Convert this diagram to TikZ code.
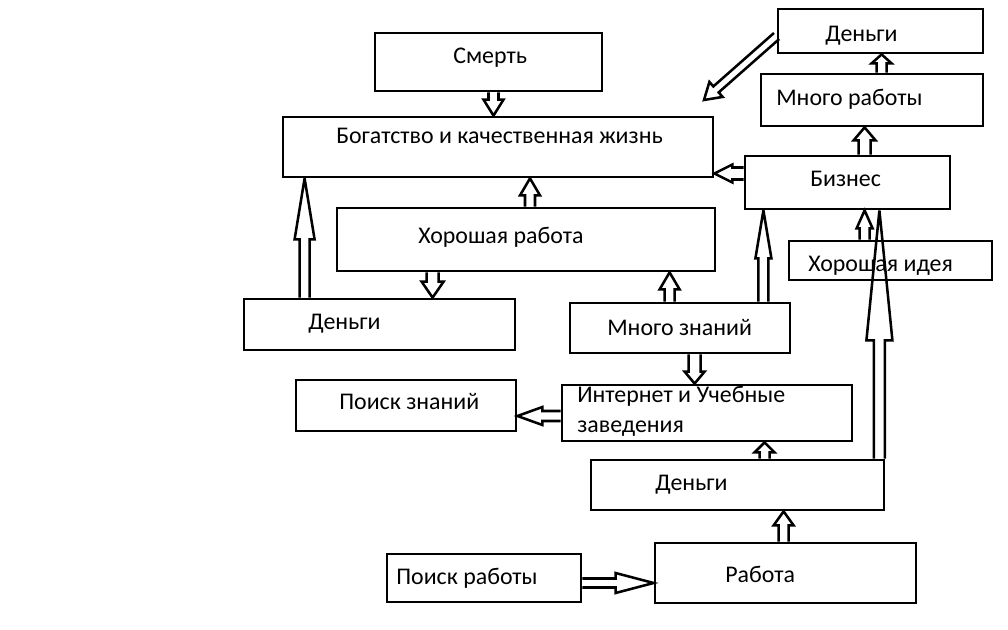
\documentclass[tikz,border=0pt]{standalone}
\usepackage{fontspec}
\setmainfont{Carlito}
\usetikzlibrary{calc, fit, positioning}

% one pixel of the sketch
\def\px{0.025cm}

\tikzset{
    box/.style={draw, line width=2pt, inner sep=0pt},
    txt/.style={inner sep=0pt, font=\fontsize{17}{21.3}\selectfont},
    arrowline/.style={line width=1.8pt, line join=miter, miter limit=4}
}

% hollow block arrow: from, to, shaft half width, head half width, head length
\newcommand{\hollowarrow}[5]{%
    \coordinate (ha-h) at ($(#2)!#5*\px!(#1)$);
    \draw[arrowline]
        ($(#1)!#3*\px!90:(#2)$) -- ($(ha-h)!#3*\px!-90:(#1)$)
        -- ($(ha-h)!#4*\px!-90:(#1)$) -- (#2)
        -- ($(ha-h)!#4*\px!90:(#1)$) -- ($(ha-h)!#3*\px!90:(#1)$)
        -- ($(#1)!#3*\px!-90:(#2)$);
}

\begin{document}
\begin{tikzpicture}[x=0.025cm, y=-0.025cm]
\useasboundingbox (0,0) rectangle (1008,630);

% Boxes
\node[box, fit={(375,33) (602,91)}] (death) {};
\node[box, fit={(283,117) (713,177)}] (wealth) {};
\node[box, fit={(337,208) (715,271)}] (good-job) {};
\node[box, fit={(244,299) (515,350)}] (money-left) {};
\node[box, fit={(570,303) (790,353)}] (much-knowledge) {};
\node[box, fit={(296,380) (516,431)}] (search-knowledge) {};
\node[box, fit={(562,385) (852,441)}] (internet) {};
\node[box, fit={(591,460) (884,510)}] (money-mid) {};
\node[box, fit={(387,554) (581,602)}] (job-search) {};
\node[box, fit={(655,543) (916,603)}] (job) {};
\node[box, fit={(778,9) (983,53)}] (money-top) {};
\node[box, fit={(761,74) (983,126)}] (much-work) {};
\node[box, fit={(745,156) (950,209)}] (business) {};
\node[box, fit={(789,241) (992,280)}] (good-idea) {};

% Texts
\node[txt, anchor=base west] (death-txt) at (453,64) {Смерть};
\node[txt, anchor=base west] (wealth-txt) at (336,144) {Богатство и качественная жизнь};
\node[txt, anchor=base west] (good-job-txt) at (418,244) {Хорошая работа};
\node[txt, anchor=base west] (money-left-txt) at (308,330) {Деньги};
\node[txt, anchor=base west] (much-knowledge-txt) at (607,335) {Много знаний};
\node[txt, anchor=base west] (search-knowledge-txt) at (339,409) {Поиск знаний};
\node[txt, anchor=north west, align=left] (internet-txt) at (577,386) {Интернет и Учебные\\заведения};
\node[txt, anchor=base west] (money-mid-txt) at (655,490) {Деньги};
\node[txt, anchor=base west] (job-search-txt) at (396,584) {Поиск работы};
\node[txt, anchor=base west] (job-txt) at (725,582) {Работа};
\node[txt, anchor=base west] (money-top-txt) at (825,42) {Деньги};
\node[txt, anchor=base west] (much-work-txt) at (776,106) {Много работы};
\node[txt, anchor=base west] (business-txt) at (810,187) {Бизнес};
\node[txt, anchor=base west] (good-idea-txt) at (808,272) {Хорошая идея};

% Arrows
\coordinate (death-out) at ($(death.south)+(5,0)$);
\hollowarrow{death-out}{death-out |- wealth.north}{5}{10}{16}

\coordinate (good-job-up) at ($(good-job.north)+(4,0)$);
\hollowarrow{good-job-up}{good-job-up |- wealth.south}{5}{10}{17}

\coordinate (money-left-up) at ($(money-left.north west)+(62,0)$);
\hollowarrow{money-left-up}{money-left-up |- wealth.south}{5}{10}{61}

\coordinate (good-job-down) at ($(good-job.south west)+(97,0)$);
\hollowarrow{good-job-down}{good-job-down |- money-left.north}{6}{11}{16}

\coordinate (knowledge-up) at ($(much-knowledge.north west)+(101,0)$);
\hollowarrow{knowledge-up}{knowledge-up |- good-job.south}{5}{10}{17}

\coordinate (knowledge-biz) at ($(much-knowledge.north east)+(-28,0)$);
\hollowarrow{knowledge-biz}{knowledge-biz |- business.south}{5}{8}{48}

\coordinate (knowledge-down) at ($(much-knowledge.south west)+(126,0)$);
\hollowarrow{knowledge-down}{knowledge-down |- internet.north}{6}{10}{12}

\coordinate (internet-out) at ($(internet.west)+(0,3)$);
\hollowarrow{internet-out}{internet-out -| search-knowledge.east}{5}{9}{25}

\coordinate (money-mid-up) at ($(money-mid.north west)+(175,0)$);
\hollowarrow{money-mid-up}{money-mid-up |- internet.south}{5}{10}{10}

\coordinate (job-up) at ($(job.north west)+(130,0)$);
\hollowarrow{job-up}{job-up |- money-mid.south}{5}{10}{14}

\coordinate (job-search-out) at ($(job-search.east)+(0,5)$);
\hollowarrow{job-search-out}{job-search-out -| job.west}{4.5}{10}{38}

\coordinate (business-out) at ($(business.west)+(0,-9)$);
\hollowarrow{business-out}{business-out -| wealth.east}{6}{9}{18}

\coordinate (much-work-up) at ($(much-work.north west)+(122,0)$);
\hollowarrow{much-work-up}{much-work-up |- money-top.south}{5}{10}{9}

\coordinate (business-up) at ($(business.north west)+(121,0)$);
\hollowarrow{business-up}{business-up |- much-work.south}{6}{11}{13}

\coordinate (idea-up) at ($(good-idea.north west)+(77,0)$);
\hollowarrow{idea-up}{idea-up |- business.south}{5}{8}{18}

\coordinate (money-top-out) at ($(money-top.west)+(0,5)$);
\coordinate (money-top-end) at (704,100);
\hollowarrow{money-top-out}{money-top-end}{4}{10}{16}

\coordinate (money-mid-biz) at ($(money-mid.north east)+(-6,0)$);
\hollowarrow{money-mid-biz}{money-mid-biz |- business.south}{5.5}{13}{130}

\end{tikzpicture}
\end{document}
